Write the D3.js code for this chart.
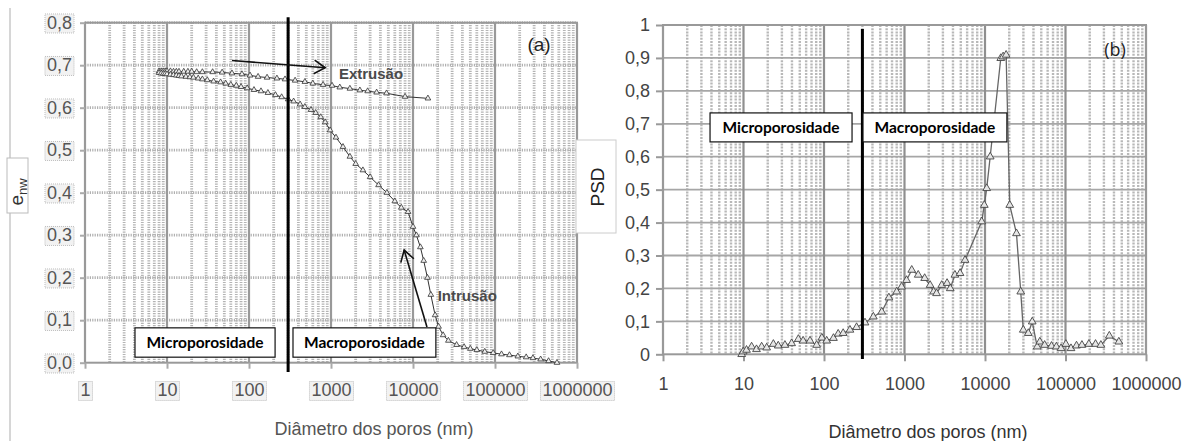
<!DOCTYPE html>
<html><head><meta charset="utf-8">
<script src="https://cdn.jsdelivr.net/npm/d3@7"></script>
<style>body{margin:0;background:#fff;} svg{display:block;}</style>
</head><body>
<svg id="c" width="1194" height="441"></svg>
<script>
// ---------- DATA ----------
const xTickValues = [1, 10, 100, 1000, 10000, 100000, 1000000];
const yTicksA = [0, 0.1, 0.2, 0.3, 0.4, 0.5, 0.6, 0.7, 0.8];
const yTicksB = [0, 0.1, 0.2, 0.3, 0.4, 0.5, 0.6, 0.7, 0.8, 0.9, 1];

// (a) Extrusão: pore diameter (nm) and e_nw
const extrusionD = [8, 8.5, 9, 9.5, 10, 11, 12, 13, 14, 16, 18, 20, 23, 27, 36, 47, 62, 82, 103, 129, 166, 219, 275, 365, 480, 600, 800, 1030, 1280, 1700, 2250, 2800, 3600, 4750, 8000, 15200];
const extrusionE = [0.686, 0.686, 0.686, 0.686, 0.686, 0.686, 0.685, 0.685, 0.685, 0.685, 0.685, 0.685, 0.684, 0.684, 0.684, 0.683, 0.681, 0.679, 0.676, 0.673, 0.671, 0.669, 0.667, 0.664, 0.661, 0.657, 0.654, 0.652, 0.648, 0.645, 0.641, 0.639, 0.636, 0.634, 0.626, 0.622];

// (a) Intrusão
const intrusionD = [8, 8.5, 9, 9.5, 10, 11, 12, 13, 14, 15, 17, 19, 21, 24, 27, 31, 37, 45, 52, 60, 70, 80, 95, 115, 140, 170, 210, 250, 300, 350, 420, 480, 570, 650, 750, 850, 975, 1150, 1400, 1700, 2000, 2450, 3000, 3800, 4800, 6000, 7200, 8700, 10000, 11000, 12300, 13500, 15000, 16500, 18600, 20500, 23300, 27000, 34000, 42000, 50000, 60000, 75000, 95000, 120000, 150000, 190000, 240000, 290000, 360000, 450000, 570000];
const intrusionE = [0.682, 0.681, 0.680, 0.680, 0.679, 0.678, 0.677, 0.676, 0.675, 0.674, 0.673, 0.672, 0.671, 0.669, 0.667, 0.665, 0.662, 0.660, 0.657, 0.654, 0.652, 0.649, 0.646, 0.642, 0.639, 0.635, 0.630, 0.625, 0.620, 0.615, 0.608, 0.602, 0.595, 0.588, 0.578, 0.566, 0.547, 0.530, 0.508, 0.485, 0.468, 0.453, 0.437, 0.418, 0.400, 0.380, 0.365, 0.355, 0.320, 0.300, 0.272, 0.240, 0.200, 0.160, 0.112, 0.085, 0.065, 0.052, 0.042, 0.037, 0.033, 0.030, 0.026, 0.023, 0.020, 0.018, 0.015, 0.013, 0.011, 0.008, 0.004, 0.000];

// (b) PSD
const psdD = [9.5, 9.9, 10.9, 12.6, 14.5, 16.8, 19.4, 23.5, 27, 32.7, 39.6, 48, 55, 67, 81, 94, 108, 131, 150, 173, 210, 254, 323, 410, 522, 640, 800, 920, 1060, 1230, 1480, 1780, 2080, 2300, 2500, 2900, 3380, 3700, 4230, 4900, 5650, 9100, 9800, 10500, 11600, 15700, 16800, 18300, 20300, 24600, 27800, 29900, 34500, 38600, 44500, 48000, 55000, 67000, 77000, 88000, 101000, 117000, 137000, 160000, 195000, 236000, 275000, 350000, 460000];
const psdV = [0.0, 0.008, 0.013, 0.023, 0.015, 0.023, 0.020, 0.031, 0.026, 0.028, 0.033, 0.046, 0.041, 0.041, 0.028, 0.050, 0.041, 0.049, 0.062, 0.064, 0.074, 0.082, 0.096, 0.114, 0.129, 0.172, 0.190, 0.205, 0.225, 0.256, 0.241, 0.231, 0.210, 0.190, 0.185, 0.210, 0.216, 0.200, 0.241, 0.246, 0.286, 0.403, 0.453, 0.504, 0.600, 0.899, 0.904, 0.909, 0.453, 0.367, 0.190, 0.074, 0.064, 0.099, 0.023, 0.038, 0.028, 0.025, 0.023, 0.018, 0.031, 0.018, 0.026, 0.028, 0.031, 0.031, 0.028, 0.056, 0.038];

const boundaryD = 300; // micro / macro boundary (nm)

// ---------- SETUP ----------
const svg = d3.select("#c");
const xA = d3.scaleLog().domain([1, 1e6]).range([85, 577]);
const yA = d3.scaleLinear().domain([0, 0.8]).range([362.7, 22.7]);
const xB = d3.scaleLog().domain([1, 1e6]).range([663, 1146]);
const yB = d3.scaleLinear().domain([0, 1]).range([354.3, 25]);

const minorVals = [];
for (let e = 0; e < 6; e++) for (let k = 2; k <= 9; k++) minorVals.push(k * Math.pow(10, e));

const commaFmt = f => v => f(v).replace(".", ",");

// outer left border
svg.append("line").attr("x1", 10).attr("x2", 10).attr("y1", 8).attr("y2", 441)
  .attr("stroke", "#bbb").attr("stroke-width", 1.2);

// ---------- PANEL A ----------
const gA = svg.append("g");
// minor verticals
gA.selectAll(".mv").data(minorVals).join("line")
  .attr("x1", d => xA(d)).attr("x2", d => xA(d))
  .attr("y1", yA(0.8)).attr("y2", yA(0))
  .attr("stroke", "#b4b4b4").attr("stroke-width", 2.8).attr("stroke-dasharray", "1.2,1.2");
// horizontal grid
gA.selectAll(".hg").data(yTicksA.slice(1)).join("line")
  .attr("x1", xA(1)).attr("x2", xA(1e6))
  .attr("y1", d => yA(d)).attr("y2", d => yA(d))
  .attr("stroke", "#b0b0b0").attr("stroke-width", 2.8).attr("stroke-dasharray", "1.2,1.2");
// major verticals
gA.selectAll(".MV").data(xTickValues).join("line")
  .attr("x1", d => xA(d)).attr("x2", d => xA(d))
  .attr("y1", yA(0.8)).attr("y2", yA(0))
  .attr("stroke", "#999").attr("stroke-width", 2.2);
// frame
gA.append("rect").attr("x", xA(1)).attr("y", yA(0.8))
  .attr("width", xA(1e6) - xA(1)).attr("height", yA(0) - yA(0.8))
  .attr("fill", "none").attr("stroke", "#999").attr("stroke-width", 2);

// axes A
const axAy = gA.append("g").attr("transform", `translate(${xA(1)},0)`)
  .call(d3.axisLeft(yA).tickValues(yTicksA).tickSize(5).tickPadding(8).tickFormat(commaFmt(d3.format(".1f"))));
const axAx = gA.append("g").attr("transform", `translate(0,${yA(0)})`)
  .call(d3.axisBottom(xA).tickValues(xTickValues).tickSize(6).tickPadding(15).tickFormat(d3.format("d")));
[axAy, axAx].forEach(ax => {
  ax.select(".domain").remove();
  ax.selectAll(".tick line").attr("stroke", "#aaa").attr("stroke-width", 2);
  ax.selectAll(".tick text").attr("font-family", "Liberation Sans, Arial, sans-serif")
    .attr("font-size", 18).attr("fill", "#555");
});
// faint noisy boxes around tick labels (scan artifacts)
[axAy, axAx].forEach(ax => {
  ax.selectAll(".tick").each(function() {
    const t = d3.select(this).select("text");
    const bb = t.node().getBBox();
    d3.select(this).insert("rect", "text")
      .attr("x", bb.x - 2).attr("y", bb.y + 1).attr("width", bb.width + 4).attr("height", bb.height - 1)
      .attr("fill", "#f2f2f2").attr("stroke", "#bdbdbd").attr("stroke-dasharray", "1,1");
  });
});

// curves A
const lineA = d3.line().x(d => xA(d[0])).y(d => yA(d[1]));
const extr = extrusionD.map((d, i) => [d, extrusionE[i]]);
const intr = intrusionD.map((d, i) => [d, intrusionE[i]]);
[extr, intr].forEach(data => {
  gA.append("path").datum(data).attr("d", lineA).attr("fill", "none")
    .attr("stroke", "#333").attr("stroke-width", 1);
  gA.selectAll(null).data(data).join("path")
    .attr("transform", d => `translate(${xA(d[0])},${yA(d[1])})`)
    .attr("d", d3.symbol(d3.symbolTriangle, 14))
    .attr("fill", "#eee").attr("stroke", "#333").attr("stroke-width", 0.8);
});

// boundary line A
gA.append("line").attr("x1", xA(boundaryD)).attr("x2", xA(boundaryD))
  .attr("y1", yA(0.813)).attr("y2", yA(-0.022))
  .attr("stroke", "#000").attr("stroke-width", 3);

// arrows A
function arrow(g, x1, y1, x2, y2) {
  g.append("line").attr("x1", x1).attr("y1", y1).attr("x2", x2).attr("y2", y2)
    .attr("stroke", "#111").attr("stroke-width", 1.6);
  const ang = Math.atan2(y2 - y1, x2 - x1);
  const L = 13, w = 0.55;
  const p1 = [x2 - L * Math.cos(ang - w), y2 - L * Math.sin(ang - w)];
  const p2 = [x2 - L * Math.cos(ang + w), y2 - L * Math.sin(ang + w)];
  g.append("path").attr("d", `M${p1}L${x2},${y2}L${p2}`).attr("fill", "none")
    .attr("stroke", "#111").attr("stroke-width", 1.6);
}
arrow(gA, xA(62), yA(0.711), xA(850), yA(0.694));
arrow(gA, xA(14800), yA(0.084), xA(7800), yA(0.265));
gA.append("text").attr("x", xA(1250)).attr("y", yA(0.667)).text("Extrusão")
  .attr("font-family", "Liberation Sans, Arial, sans-serif").attr("font-weight", "bold")
  .attr("font-size", 15).attr("fill", "#4a4a4a");
gA.append("text").attr("x", xA(20000)).attr("y", yA(0.145)).text("Intrusão")
  .attr("font-family", "Liberation Sans, Arial, sans-serif").attr("font-weight", "bold")
  .attr("font-size", 15).attr("fill", "#4a4a4a");

gA.append("text").attr("x", xA(344000)).attr("y", yA(0.733)).text("(a)")
  .attr("text-anchor", "middle").attr("font-family", "Liberation Sans, Arial, sans-serif")
  .attr("font-size", 19).attr("fill", "#222");

// labels boxes
function labelBox(g, x0, x1, y0, y1, txt) {
  g.append("rect").attr("x", x0).attr("y", y0).attr("width", x1 - x0).attr("height", y1 - y0)
    .attr("fill", "#fff").attr("stroke", "#111").attr("stroke-width", 1.2);
  g.append("text").attr("x", (x0 + x1) / 2).attr("y", (y0 + y1) / 2 + 5.5).text(txt)
    .attr("text-anchor", "middle").attr("font-family", "Lato, 'Open Sans', sans-serif")
    .attr("font-weight", "bold").attr("font-size", 15.5).attr("fill", "#000");
}
labelBox(gA, xA(4.07), xA(208), yA(0.082), yA(0.013), "Microporosidade");
labelBox(gA, xA(344), xA(19000), yA(0.082), yA(0.013), "Macroporosidade");

// y title A
gA.append("rect").attr("x", 7).attr("y", 158).attr("width", 21).attr("height", 55)
  .attr("fill", "#fff").attr("stroke", "#bbb");
const tA = gA.append("text").attr("transform", "translate(23,192) rotate(-90)")
  .attr("text-anchor", "middle").attr("font-family", "Liberation Sans, Arial, sans-serif")
  .attr("fill", "#333");
tA.append("tspan").attr("font-size", 19).text("e");
tA.append("tspan").attr("font-size", 13).attr("dy", 4).text("nw");

gA.append("text").attr("x", 374).attr("y", 435).text("Diâmetro dos poros (nm)")
  .attr("text-anchor", "middle").attr("font-family", "Liberation Sans, Arial, sans-serif")
  .attr("font-size", 18).attr("fill", "#555");

// ---------- PANEL B ----------
const gB = svg.append("g");
gB.selectAll(".mv").data(minorVals).join("line")
  .attr("x1", d => xB(d)).attr("x2", d => xB(d))
  .attr("y1", yB(1)).attr("y2", yB(0))
  .attr("stroke", "#b8b8b8").attr("stroke-width", 2.4).attr("stroke-dasharray", "2,1.2");
gB.selectAll(".hg").data(yTicksB.slice(1)).join("line")
  .attr("x1", xB(1)).attr("x2", xB(1e6))
  .attr("y1", d => yB(d)).attr("y2", d => yB(d))
  .attr("stroke", "#a6a6a6").attr("stroke-width", 1.8);
gB.selectAll(".MV").data(xTickValues).join("line")
  .attr("x1", d => xB(d)).attr("x2", d => xB(d))
  .attr("y1", yB(1)).attr("y2", yB(0))
  .attr("stroke", "#8f8f8f").attr("stroke-width", 2.2);
gB.append("rect").attr("x", xB(1)).attr("y", yB(1))
  .attr("width", xB(1e6) - xB(1)).attr("height", yB(0) - yB(1))
  .attr("fill", "none").attr("stroke", "#999").attr("stroke-width", 2);

const axBy = gB.append("g").attr("transform", `translate(${xB(1)},0)`)
  .call(d3.axisLeft(yB).tickValues(yTicksB).tickSize(7).tickPadding(6)
    .tickFormat(v => (v === 0 || v === 1) ? String(v) : d3.format(".1f")(v).replace(".", ",")));
const axBx = gB.append("g").attr("transform", `translate(0,${yB(0)})`)
  .call(d3.axisBottom(xB).tickValues(xTickValues).tickSize(7).tickPadding(16).tickFormat(d3.format("d")));
[axBy, axBx].forEach(ax => {
  ax.select(".domain").remove();
  ax.selectAll(".tick line").attr("stroke", "#999").attr("stroke-width", 2);
  ax.selectAll(".tick text").attr("font-family", "Liberation Sans, Arial, sans-serif")
    .attr("font-size", 18).attr("fill", "#444");
});

const lineB = d3.line().x(d => xB(d[0])).y(d => yB(d[1]));
const psd = psdD.map((d, i) => [d, psdV[i]]);
gB.append("path").datum(psd).attr("d", lineB).attr("fill", "none")
  .attr("stroke", "#666").attr("stroke-width", 1.3);
gB.selectAll(null).data(psd).join("path")
  .attr("transform", d => `translate(${xB(d[0])},${yB(d[1])})`)
  .attr("d", d3.symbol(d3.symbolTriangle, 26))
  .attr("fill", "#e6e6e6").attr("stroke", "#444").attr("stroke-width", 0.9);

gB.append("line").attr("x1", xB(boundaryD)).attr("x2", xB(boundaryD))
  .attr("y1", yB(0.988)).attr("y2", yB(-0.014))
  .attr("stroke", "#000").attr("stroke-width", 3);

labelBox(gB, xB(3.84), xB(223), yB(0.733), yB(0.645), "Microporosidade");
labelBox(gB, xB(305), xB(18700), yB(0.733), yB(0.645), "Macroporosidade");

gB.append("text").attr("x", xB(412000)).attr("y", yB(0.905)).text("(b)")
  .attr("text-anchor", "middle").attr("font-family", "'Open Sans', sans-serif")
  .attr("font-size", 18).attr("fill", "#222");

gB.append("rect").attr("x", 576).attr("y", 140).attr("width", 40).attr("height", 93)
  .attr("fill", "#fff").attr("stroke", "#ccc");
gB.append("text").attr("transform", "translate(604,187) rotate(-90)").text("PSD")
  .attr("text-anchor", "middle").attr("font-family", "Liberation Sans, Arial, sans-serif")
  .attr("font-size", 19).attr("fill", "#222");

gB.append("text").attr("x", 928).attr("y", 438).text("Diâmetro dos poros (nm)")
  .attr("text-anchor", "middle").attr("font-family", "Liberation Sans, Arial, sans-serif")
  .attr("font-size", 18).attr("fill", "#333");
</script>
</body></html>
